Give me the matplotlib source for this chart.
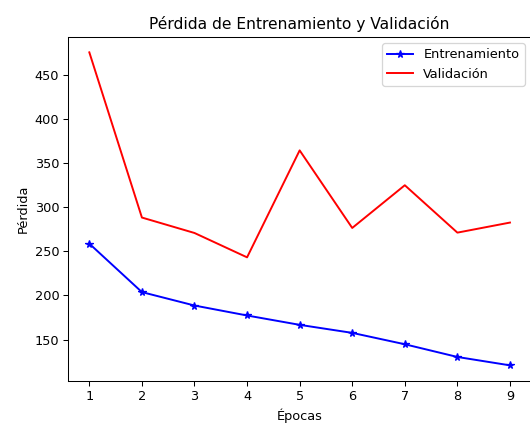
import matplotlib
matplotlib.use("Agg")
import matplotlib.pyplot as plt

# Loss per epoch
epocas = [1, 2, 3, 4, 5, 6, 7, 8, 9]
perdida_entrenamiento = [258.7, 203.8, 188.6, 177.3, 166.7, 157.6, 144.7, 130.3, 120.8]
perdida_validacion = [475.5, 288.3, 270.8, 243.2, 364.4, 276.5, 324.9, 271.2, 282.6]

W, H = 530, 426
DPI = 93
fig = plt.figure(figsize=(W / DPI, H / DPI), dpi=DPI)
left, right, top, bottom = 68.3, 531.0, 36.7, 381.0
ax = fig.add_axes([left / W, (H - bottom) / H, (right - left) / W, (bottom - top) / H])

ax.plot(epocas, perdida_entrenamiento, color="blue", marker="*", label="Entrenamiento")
ax.plot(epocas, perdida_validacion, color="red", label="Validación")

ax.set_title("Pérdida de Entrenamiento y Validación")
ax.set_xlabel("Épocas")
ax.set_ylabel("Pérdida")
ax.legend(loc="upper right")

fig.savefig("out.png", dpi=DPI)
